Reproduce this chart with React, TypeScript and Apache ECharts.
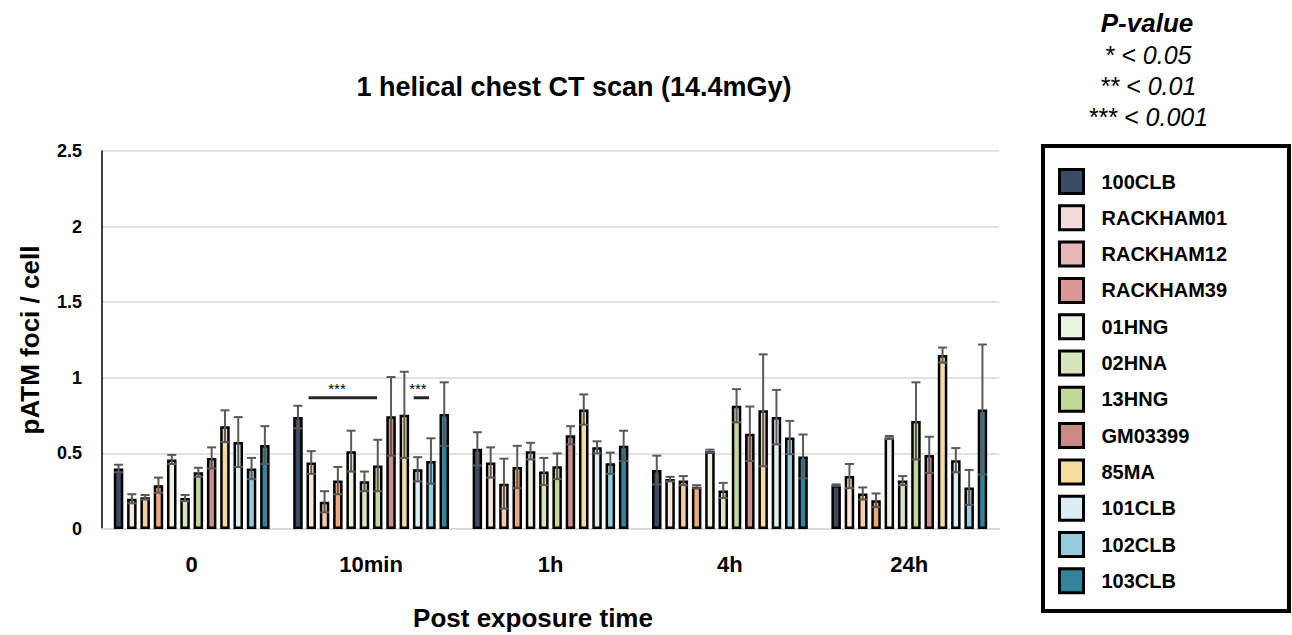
import React, { useEffect, useRef } from 'react';
import * as echarts from 'echarts';

const categories = ['0', '10min', '1h', '4h', '24h'];
const strainNames = ['100CLB', 'RACKHAM01', 'RACKHAM12', 'RACKHAM39', '01HNG', '02HNA', '13HNG', 'GM03399', '85MA', '101CLB', '102CLB', '103CLB'];

const mean100CLB = [0.40, 0.74, 0.53, 0.39, 0.29];
const err100CLB = [0.025, 0.075, 0.11, 0.095, 0.005];
const meanRACKHAM01 = [0.20, 0.44, 0.44, 0.33, 0.35];
const errRACKHAM01 = [0.03, 0.075, 0.10, 0.015, 0.08];
const meanRACKHAM12 = [0.21, 0.18, 0.30, 0.32, 0.235];
const errRACKHAM12 = [0.015, 0.07, 0.165, 0.03, 0.04];
const meanRACKHAM39 = [0.29, 0.32, 0.41, 0.28, 0.19];
const errRACKHAM39 = [0.05, 0.09, 0.14, 0.01, 0.045];
const mean01HNG = [0.46, 0.515, 0.515, 0.515, 0.605];
const err01HNG = [0.03, 0.135, 0.055, 0.01, 0.01];
const mean02HNA = [0.205, 0.315, 0.38, 0.255, 0.32];
const err02HNA = [0.02, 0.065, 0.09, 0.05, 0.03];
const mean13HNG = [0.375, 0.42, 0.415, 0.815, 0.715];
const err13HNG = [0.03, 0.17, 0.085, 0.11, 0.255];
const meanGM03399 = [0.47, 0.745, 0.62, 0.63, 0.49];
const errGM03399 = [0.07, 0.26, 0.06, 0.18, 0.12];
const mean85MA = [0.68, 0.755, 0.79, 0.785, 1.15];
const err85MA = [0.105, 0.285, 0.10, 0.37, 0.05];
const mean101CLB = [0.575, 0.395, 0.54, 0.74, 0.455];
const err101CLB = [0.165, 0.08, 0.04, 0.18, 0.08];
const mean102CLB = [0.40, 0.45, 0.435, 0.605, 0.275];
const err102CLB = [0.07, 0.15, 0.07, 0.11, 0.115];
const mean103CLB = [0.555, 0.76, 0.55, 0.48, 0.79];
const err103CLB = [0.125, 0.21, 0.10, 0.145, 0.43];

const means = [mean100CLB, meanRACKHAM01, meanRACKHAM12, meanRACKHAM39, mean01HNG, mean02HNA, mean13HNG, meanGM03399, mean85MA, mean101CLB, mean102CLB, mean103CLB];
const errs = [err100CLB, errRACKHAM01, errRACKHAM12, errRACKHAM39, err01HNG, err02HNA, err13HNG, errGM03399, err85MA, err101CLB, err102CLB, err103CLB];

const barColors = ['#3c4b64', '#fae6d8', '#f6cca9', '#eda87a', '#eef2e0', '#d8e5bf', '#c3d79b', '#cd8f8b', '#f5dba3', '#daeef3', '#92cddd', '#31849b'];
const legendColors = ['#3c4b64', '#f2dcdb', '#e6b9b8', '#da9694', '#ebf1de', '#d8e4bc', '#c4d79b', '#c98b84', '#f7dca0', '#dbeef4', '#93cddd', '#31849b'];

// significance brackets: category index, y value, bar-slot span and label slot
const sigCategory = [1, 1];
const sigY = [0.868, 0.868];
const sigFrom = [0.8, 8.7];
const sigTo = [5.95, 9.85];
const sigLabelSlot = [2.94, 9.02];
const sigLabels = ['***', '***'];

const pValueLines = ['* < 0.05', '** < 0.01', '*** < 0.001'];

const FONT = '"Liberation Sans", Arial, Helvetica, sans-serif';
const BAR_W = 9.5;
const SLOT = 13.3;
const N = strainNames.length;

export default function App() {
  const ref = useRef<HTMLDivElement>(null);
  useEffect(() => {
    const chart = echarts.init(ref.current as HTMLDivElement, null, { renderer: 'svg' });

    const barSeries = strainNames.map((name, i) => ({
      name,
      type: 'bar',
      data: means[i],
      barWidth: BAR_W,
      barGap: ((SLOT - BAR_W) / BAR_W * 100).toFixed(1) + '%',
      itemStyle: { color: barColors[i], borderColor: '#000', borderWidth: 2.5 },
      z: 2,
    }));

    const errSeries = strainNames.map((name, i) => ({
      name: name + ' error',
      type: 'custom',
      z: 3,
      silent: true,
      data: categories.map((_c, j) => [j, means[i][j], errs[i][j]]),
      encode: { x: 0, y: 1 },
      renderItem: (_params: any, api: any) => {
        const cat = api.value(0);
        const m = api.value(1);
        const e = api.value(2);
        const top = api.coord([cat, m + e]);
        const bot = api.coord([cat, m - e]);
        const x = top[0] + (i - (N - 1) / 2) * SLOT;
        const style = { stroke: '#595959', lineWidth: 2 };
        return {
          type: 'group',
          children: [
            { type: 'line', shape: { x1: x, y1: top[1], x2: x, y2: bot[1] }, style },
            { type: 'line', shape: { x1: x - 4.5, y1: top[1], x2: x + 4.5, y2: top[1] }, style },
            { type: 'line', shape: { x1: x - 4.5, y1: bot[1], x2: x + 4.5, y2: bot[1] }, style },
          ],
        };
      },
    }));

    const sigSeries = {
      name: 'significance',
      type: 'custom',
      z: 4,
      silent: true,
      data: sigCategory.map((c, k) => [c, sigY[k], sigFrom[k], sigTo[k], sigLabelSlot[k]]),
      encode: { x: 0, y: 1 },
      renderItem: (params: any, api: any) => {
        const p = api.coord([api.value(0), api.value(1)]);
        const x1 = p[0] + (api.value(2) - (N - 1) / 2) * SLOT;
        const x2 = p[0] + (api.value(3) - (N - 1) / 2) * SLOT;
        const xl = p[0] + (api.value(4) - (N - 1) / 2) * SLOT;
        return {
          type: 'group',
          children: [
            { type: 'line', shape: { x1, y1: p[1], x2, y2: p[1] }, style: { stroke: '#262626', lineWidth: 3 } },
            {
              type: 'text',
              style: {
                text: sigLabels[params.dataIndex],
                x: xl,
                y: p[1] - 9,
                align: 'center',
                verticalAlign: 'middle',
                fontSize: 15,
                fontFamily: FONT,
                fill: '#000',
              },
            },
          ],
        };
      },
    };

    const option: any = {
      animation: false,
      backgroundColor: '#fff',
      grid: { left: 102, right: 293, top: 151, bottom: 106, containLabel: false },
      xAxis: {
        type: 'category',
        data: categories,
        axisLine: { show: true, lineStyle: { color: '#d9d9d9', width: 2 } },
        axisTick: { show: false },
        axisLabel: { fontSize: 22, fontWeight: 'bold', color: '#000', fontFamily: FONT, margin: 24 },
        splitLine: { show: false },
      },
      yAxis: {
        type: 'value',
        min: 0,
        max: 2.5,
        interval: 0.5,
        axisLine: { show: true, lineStyle: { color: '#000', width: 1.5 } },
        axisTick: { show: false },
        axisLabel: { fontSize: 18, fontWeight: 'bold', color: '#000', fontFamily: FONT, margin: 20 },
        splitLine: { show: true, lineStyle: { color: '#d9d9d9', width: 1.5 } },
        name: 'pATM foci / cell',
        nameLocation: 'middle',
        nameGap: 59,
        nameTextStyle: { fontSize: 26, fontWeight: 'bold', color: '#000', fontFamily: FONT },
      },
      legend: {
        orient: 'vertical',
        left: 1058,
        top: 168,
        padding: 0,
        itemWidth: 24,
        itemHeight: 24,
        itemGap: 9.3,
        icon: 'rect',
        z: 10,
        data: strainNames.map((name, i) => ({
          name,
          itemStyle: { color: legendColors[i], borderColor: '#000', borderWidth: 3 },
        })),
        textStyle: { fontSize: 20, fontWeight: 'bold', color: '#000', fontFamily: FONT, padding: [0, 0, 0, 13] },
      },
      graphic: [
        {
          type: 'rect',
          z: 0,
          shape: { x: 1043, y: 146, width: 246, height: 465 },
          style: { fill: '#fff', stroke: '#000', lineWidth: 4 },
        },
        {
          type: 'text',
          x: 574,
          y: 87,
          style: { text: '1 helical chest CT scan (14.4mGy)', align: 'center', verticalAlign: 'middle', fontSize: 27, fontWeight: 'bold', fontFamily: FONT, fill: '#000' },
        },
        {
          type: 'text',
          x: 533,
          y: 618,
          style: { text: 'Post exposure time', align: 'center', verticalAlign: 'middle', fontSize: 26, fontWeight: 'bold', fontFamily: FONT, fill: '#000' },
        },
        {
          type: 'text',
          x: 1147,
          y: 23,
          style: { text: 'P-value', align: 'center', verticalAlign: 'middle', fontSize: 26, fontWeight: 'bold', fontStyle: 'italic', fontFamily: FONT, fill: '#000' },
        },
        ...pValueLines.map((t, k) => ({
          type: 'text',
          x: 1148,
          y: 55 + k * 31,
          style: { text: t, align: 'center', verticalAlign: 'middle', fontSize: 25, fontStyle: 'italic', fontFamily: FONT, fill: '#000' },
        })),
      ],
      series: [...barSeries, ...errSeries, sigSeries],
    };

    chart.setOption(option);
    return () => chart.dispose();
  }, []);

  return <div ref={ref} style={{ position: 'absolute', left: 0, top: 0, width: 1292, height: 635 }} />;
}
